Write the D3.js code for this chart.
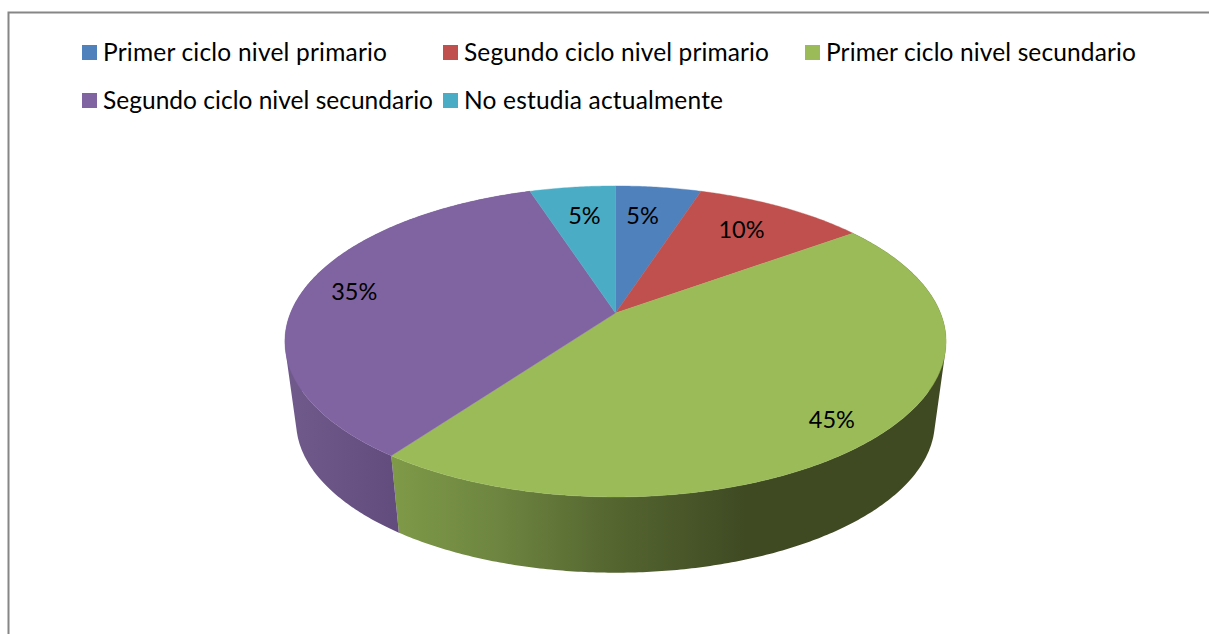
<!DOCTYPE html>
<html>
<head>
<meta charset="utf-8">
<script src="https://cdnjs.cloudflare.com/ajax/libs/d3/7.8.5/d3.min.js"></script>
<style>html,body{margin:0;padding:0;background:#fff}svg{display:block}text{font-family:Lato,sans-serif;fill:#000}</style>
</head>
<body>
<script>
const categories = ["Primer ciclo nivel primario","Segundo ciclo nivel primario","Primer ciclo nivel secundario","Segundo ciclo nivel secundario","No estudia actualmente"];
const values = [5,10,45,35,5];
const colors = ["#4F81BD","#C0504D","#9BBB59","#8064A2","#4BACC6"];

const W = 1209, H = 634;
const svg = d3.select("body").append("svg").attr("width",W).attr("height",H);
svg.append("path").attr("d",`M8.5,${H}V12.5H${W}`).attr("fill","none").attr("stroke","#868686").attr("stroke-width",2);

// perspective view of the disc
const k = 0.183;
const top_ = {cx:615.5, cy:313, a:325, b:150.3};
const low  = {cx:615.5, cy:394, a:314, b:146};
const proj = (p,ang,r=1)=>{
  const u=r*Math.sin(ang), v=r*Math.cos(ang), d=1+k*v;
  return [p.cx+p.a*u/d, p.cy-p.b*v/d];
};
const pie = d3.pie().sort(null).value(d=>d)(values);
const angles = (s,step=0.01)=>{
  const n=Math.max(2,Math.ceil((s.endAngle-s.startAngle)/step));
  return d3.range(n+1).map(i=>s.startAngle+(s.endAngle-s.startAngle)*i/n);
};

// side gradients
const defs = svg.append("defs");
const sideStops = [
  null, null,
  {x1:391,x2:745,stops:[[0,"#7F9A48"],[0.3,"#6D8540"],[0.62,"#556630"],[1,"#3F4A23"]]},
  {x1:290,x2:397,stops:[[0,"#705A8C"],[1,"#624B7D"]]},
  null
];
sideStops.forEach((g,i)=>{
  if(!g) return;
  const lg=defs.append("linearGradient").attr("id","side"+i).attr("gradientUnits","userSpaceOnUse")
    .attr("x1",g.x1).attr("x2",g.x2).attr("y1",0).attr("y2",0);
  g.stops.forEach(s=>lg.append("stop").attr("offset",s[0]).attr("stop-color",s[1]));
});

// sides
pie.forEach((s,i)=>{
  if(!sideStops[i]) return;
  const as=angles(s);
  let d="";
  for(let j=0;j<as.length-1;j++){
    let q=[proj(top_,as[j]),proj(top_,as[j+1]),proj(low,as[j+1]),proj(low,as[j])];
    if(d3.polygonArea(q)<0) q=q.reverse();
    d+="M"+q.join("L")+"Z";
  }
  svg.append("path").attr("d",d).attr("fill",`url(#side${i})`).attr("fill-rule","nonzero");
});

// top face
pie.forEach((s,i)=>{
  const line=d3.line();
  const pts=[[top_.cx,top_.cy],...angles(s).map(a=>proj(top_,a))];
  svg.append("path").attr("d",line(pts)+"Z").attr("fill",colors[i]).attr("stroke",colors[i]).attr("stroke-width",0.4);
});

// data labels
const labelRadii=[0.737,0.75,0.86,0.84,0.737];
const labelDx=[-6,-3,-6,2,2], labelDy=[-1,-1.5,4,-2,-1];
pie.forEach((s,i)=>{
  const [x,y]=proj(top_,(s.startAngle+s.endAngle)/2,labelRadii[i]);
  svg.append("text").attr("x",x+labelDx[i]).attr("y",y+labelDy[i]).attr("text-anchor","middle").attr("dy","0.36em")
    .attr("font-size",23.5).text(values[i]+"%");
});

// legend
const legendX=[82,443,805,82,443], legendY=[45,45,45,93,93], legendW=[284,305,310,330,259];
categories.forEach((c,i)=>{
  svg.append("rect").attr("x",legendX[i]).attr("y",legendY[i]).attr("width",15).attr("height",15).attr("fill",colors[i]);
  svg.append("text").attr("x",legendX[i]+21).attr("y",legendY[i]+16).attr("font-size",24.5)
    .attr("textLength",legendW[i]).attr("lengthAdjust","spacing").text(c);
});
</script>
</body>
</html>
